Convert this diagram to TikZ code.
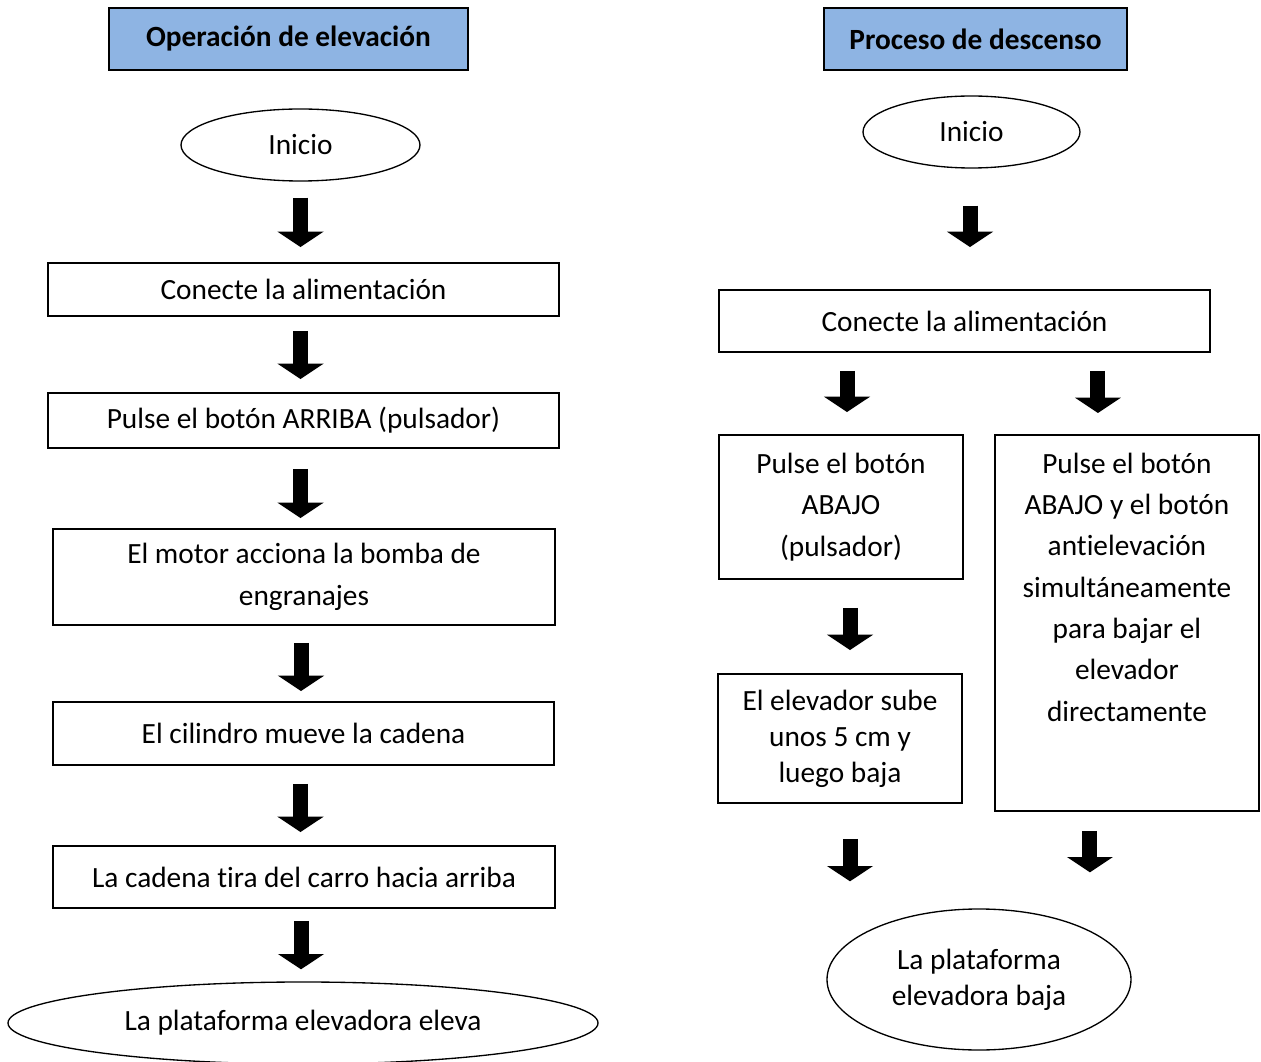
\documentclass[tikz,border=0pt]{standalone}
\usepackage{fontspec}
\setmainfont[Ligatures=NoCommon]{Carlito}
\usetikzlibrary{shapes.geometric,arrows.meta,calc}

\definecolor{hdrblue}{RGB}{142,180,227}

\tikzset{
  box/.style={draw, line width=1.4pt, align=center, inner sep=0pt, font=\fontsize{22}{31}\selectfont},
  oval/.style={draw, ellipse, line width=1pt, align=center, inner sep=0pt, font=\fontsize{22}{31}\selectfont},
  hdr/.style={draw, fill=hdrblue, line width=1.4pt, inner sep=0pt, font=\fontsize{22}{31}\selectfont\bfseries},
  blockarrow/.style={line width=11.25pt, -{Triangle[width=34pt,length=11.5pt]}},
}

\begin{document}
\begin{tikzpicture}[x=0.75pt,y=0.75pt,yscale=-1,xscale=1]
\useasboundingbox (0,0) rectangle (1261,1062);

% Operacion de elevacion
\node[hdr, minimum width=269.25pt, minimum height=46.5pt] (hdrA) at (288.5,39) {Operación de elevación};
\node[oval, minimum width=179.25pt, minimum height=54pt] (iniA) at (300.5,145) {Inicio};
\node[box, minimum width=383.25pt, minimum height=39.75pt] (conA) at (303.5,289.5) {Conecte la alimentación};
\node[box, minimum width=383.25pt, minimum height=41.25pt] (pulA) at (303.5,420.5) {Pulse el botón ARRIBA (pulsador)};
\node[box, minimum width=376.5pt, minimum height=72pt] (motA) at (304,577) {El motor acciona la bomba de\\engranajes};
\node[box, minimum width=375.75pt, minimum height=47.25pt] (cilA) at (303.5,733.5) {El cilindro mueve la cadena};
\node[box, minimum width=376.5pt, minimum height=46.5pt] (cadA) at (304,877) {La cadena tira del carro hacia arriba};
\node[oval, minimum width=442.5pt, minimum height=61.5pt] (finA) at (303,1023) {La plataforma elevadora eleva};

\draw[blockarrow] ($(iniA.south)+(0,16)$) -- ($(iniA.south |- conA.north)+(0,-15)$);
\draw[blockarrow] ($(conA.south)+(-3,14)$) -- ($(conA.south |- pulA.north)+(-3,-13)$);
\draw[blockarrow] ($(pulA.south)+(-3,20)$) -- ($(pulA.south |- motA.north)+(-3,-10)$);
\draw[blockarrow] ($(motA.south)+(-3,17)$) -- ($(motA.south |- cilA.north)+(-3,-10)$);
\draw[blockarrow] ($(cilA.south)+(-3,18)$) -- ($(cilA.south |- cadA.north)+(-3,-13)$);
\draw[blockarrow] ($(cadA.south)+(-3,12)$) -- ($(cadA.south |- finA.north)+(-3,-12)$);

% Proceso de descenso
\node[hdr, minimum width=227.25pt, minimum height=46.5pt] (hdrB) at (975.5,39) {Proceso de descenso};
\node[oval, minimum width=162.75pt, minimum height=54pt] (iniB) at (971.5,132) {Inicio};
\node[box, minimum width=368.25pt, minimum height=46.5pt] (conB) at (964.5,321) {Conecte la alimentación};
\node[box, minimum width=183pt, minimum height=108pt] (pulB) at (841,507) {Pulse el botón\\ABAJO\\(pulsador)};
\node[box, anchor=north west] (bajB) at (994,434) {\begin{minipage}[t][282pt][t]{198pt}\centering\vspace*{13.5pt}Pulse el botón\\ABAJO y el botón\\antielevación\\simultáneamente\\para bajar el\\elevador\\directamente\end{minipage}};
\node[box, minimum width=183pt, minimum height=96.75pt, font=\fontsize{22}{27}\selectfont] (subB) at (840,738.5) {El elevador sube\\unos 5 cm y\\luego baja};
\node[oval, minimum width=228pt, minimum height=105.75pt, font=\fontsize{22}{27}\selectfont] (finB) at (979,979.5) {La plataforma\\elevadora baja};

\draw[blockarrow] ($(iniB.south)+(-1.5,37)$) -- ($(iniB.south |- conB.north)+(-1.5,-42)$);
\draw[blockarrow] ($(conB.south -| pulB.north)+(6,18)$) -- ($(pulB.north)+(6,-22)$);
\draw[blockarrow] ($(conB.south -| bajB.north)+(-29,18)$) -- ($(bajB.north)+(-29,-21)$);
\draw[blockarrow] ($(pulB.south)+(9,28)$) -- ($(pulB.south |- subB.north)+(9,-23)$);
\draw[blockarrow] ($(subB.south)+(10,35)$) -- ($(subB.south |- finB.north)+(10,-27)$);
\draw[blockarrow] ($(bajB.south)+(-37,19)$) -- ($(bajB.south |- finB.north)+(-37,-36)$);

\end{tikzpicture}
\end{document}
